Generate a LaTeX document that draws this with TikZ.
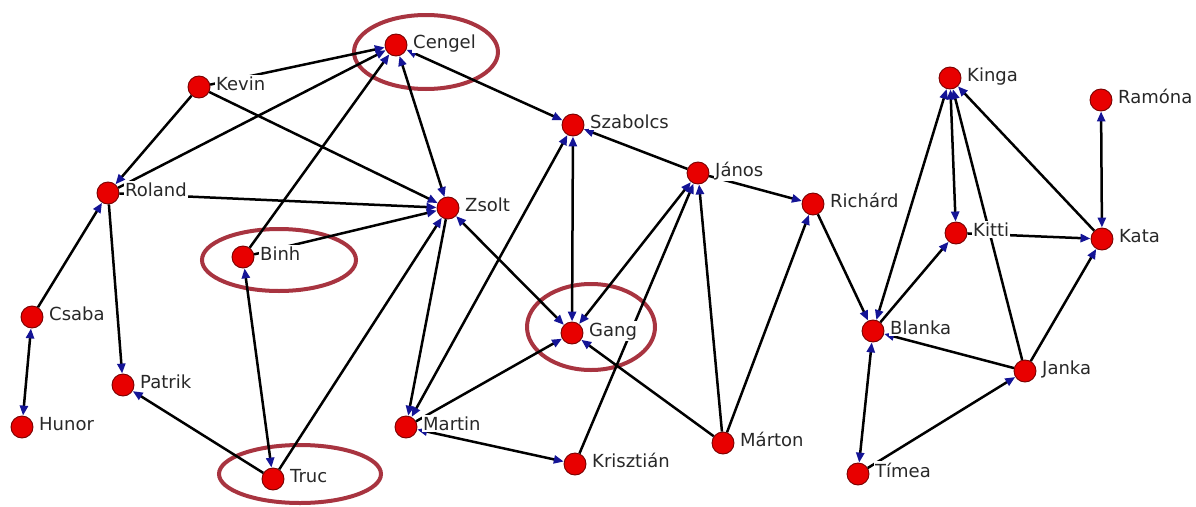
\documentclass[tikz,border=0pt]{standalone}
\usepackage{fontspec}
\setmainfont{DejaVu Sans}
\usetikzlibrary{arrows.meta}
\definecolor{nodered}{RGB}{232,0,0}
\definecolor{nodeedge}{RGB}{120,0,0}
\definecolor{arrowblue}{RGB}{20,20,150}
\definecolor{ringred}{RGB}{168,52,64}
\definecolor{labelgray}{RGB}{40,40,40}
\tikzset{
  person/.style={circle,fill=nodered,draw=nodeedge,line width=0.9pt,minimum size=22pt,inner sep=0pt},
  namelabel/.style={anchor=base west,fill=white,inner xsep=1pt,inner ysep=1.5pt,font=\fontsize{18}{20}\selectfont,text=labelgray},
  link/.style={draw=black,line width=2.5pt},
  oneway/.style={-{Triangle[length=10pt,width=8pt,color=arrowblue]}},
  twoway/.style={{Triangle[length=10pt,width=8pt,color=arrowblue]}-{Triangle[length=10pt,width=8pt,color=arrowblue]}},
  ring/.style={draw=ringred,line width=4pt},
}
\begin{document}
\begin{tikzpicture}[x=1pt,y=-1pt]
\useasboundingbox[fill=white] (0,0) rectangle (1196,506);
% highlight rings
\draw[ring] (426,52) ellipse (72 and 37);
\draw[ring] (279,260) ellipse (77 and 31);
\draw[ring] (591,327) ellipse (64 and 43);
\draw[ring] (300,474) ellipse (81 and 29);
% people
\foreach \n/\x/\y in {cengel/396/45, kevin/199/87, szabolcs/573/125, janos/698/173,
  richard/813/204, roland/108/193, zsolt/448/208, binh/243/257, csaba/32/317,
  patrik/123/385, hunor/22/427, truc/273/479, martin/406/427, krisztian/575/464,
  marton/723/443, gang/572/333, kinga/950/78, ramona/1101/100, kitti/956/233,
  kata/1102/239, blanka/873/331, janka/1025/371, timea/858/474}
  {\node[person] (\n) at (\x,\y) {};}
% links
\draw[link,oneway] (kevin) -- (cengel);
\draw[link,oneway] (roland) -- (cengel);
\draw[link,oneway] (binh) -- (cengel);
\draw[link,twoway] (cengel) -- (zsolt);
\draw[link,twoway] (cengel) -- (szabolcs);
\draw[link,oneway] (kevin) -- (zsolt);
\draw[link,oneway] (kevin) -- (roland);
\draw[link,oneway] (roland) -- (zsolt);
\draw[link,oneway] (binh) -- (zsolt);
\draw[link,oneway] (csaba) -- (roland);
\draw[link,oneway] (roland) -- (patrik);
\draw[link,twoway] (csaba) -- (hunor);
\draw[link,oneway] (truc) -- (patrik);
\draw[link,twoway] (binh) -- (truc);
\draw[link,oneway] (truc) -- (zsolt);
\draw[link,oneway] (zsolt) -- (martin);
\draw[link,twoway] (martin) -- (szabolcs);
\draw[link,twoway] (zsolt) -- (gang);
\draw[link,twoway] (gang) -- (szabolcs);
\draw[link,oneway] (janos) -- (szabolcs);
\draw[link,twoway] (gang) -- (janos);
\draw[link,oneway] (krisztian) -- (janos);
\draw[link,oneway] (marton) -- (janos);
\draw[link,oneway] (janos) -- (richard);
\draw[link,oneway] (marton) -- (richard);
\draw[link,oneway] (marton) -- (gang);
\draw[link,oneway] (martin) -- (gang);
\draw[link,twoway] (martin) -- (krisztian);
\draw[link,oneway] (richard) -- (blanka);
\draw[link,twoway] (blanka) -- (kinga);
\draw[link,oneway] (blanka) -- (kitti);
\draw[link,twoway] (kinga) -- (kitti);
\draw[link,oneway] (janka) -- (kinga);
\draw[link,oneway] (kata) -- (kinga);
\draw[link,oneway] (kitti) -- (kata);
\draw[link,twoway] (kata) -- (ramona);
\draw[link,oneway] (janka) -- (kata);
\draw[link,oneway] (janka) -- (blanka);
\draw[link,twoway] (blanka) -- (timea);
\draw[link,oneway] (timea) -- (janka);
% names
\foreach \n/\t in {cengel/Cengel, kevin/Kevin, szabolcs/Szabolcs, janos/János,
  richard/Richárd, roland/Roland, zsolt/Zsolt, binh/Binh, csaba/Csaba,
  patrik/Patrik, hunor/Hunor, truc/Truc, martin/Martin, krisztian/Krisztián,
  marton/Márton, gang/Gang, kinga/Kinga, ramona/Ramóna, kitti/Kitti,
  kata/Kata, blanka/Blanka, janka/Janka, timea/Tímea}
  {\node[namelabel] (\n-name) at ([shift={(16,3)}]\n.center) {\t};}
\end{tikzpicture}
\end{document}
